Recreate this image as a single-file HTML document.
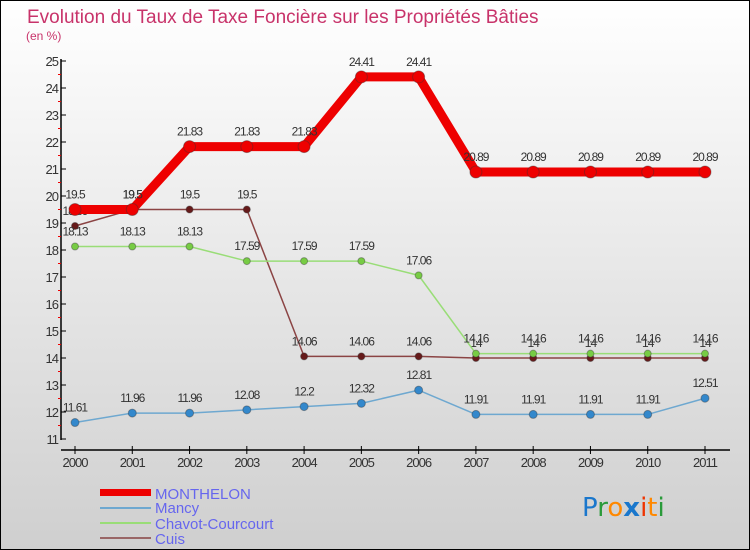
<!DOCTYPE html>
<html><head><meta charset="utf-8"><style>
body{margin:0;}
#c{width:750px;height:550px;position:relative;overflow:hidden;font-family:"Liberation Sans",sans-serif;}
</style></head><body>
<div id="c">
<svg id="s" width="750" height="550" xmlns="http://www.w3.org/2000/svg">
<defs><linearGradient id="bg" x1="0" y1="0" x2="0" y2="1"><stop offset="0" stop-color="#ffffff"/><stop offset="1" stop-color="#cfcfcf"/></linearGradient></defs>
<rect x="0.5" y="0.5" width="749" height="549" fill="url(#bg)" stroke="#000"/>
<text x="27" y="23" font-size="19" fill="#c8336a">Evolution du Taux de Taxe Foncière sur les Propriétés Bâties</text>
<text x="26" y="40" font-size="12" fill="#c8336a">(en %)</text>
<g id="axes"></g><g id="series"></g>
<g>
<rect x="100" y="489" width="51" height="7" fill="#ee0000"/>
<text x="155" y="499" font-size="15" fill="#6666ee">MONTHELON</text>
<rect x="100" y="507" width="51" height="2" fill="#6ea8d0"/>
<text x="155" y="513" font-size="15" fill="#6666ee">Mancy</text>
<rect x="100" y="522" width="51" height="2" fill="#99dd77"/>
<text x="155" y="529" font-size="15" fill="#6666ee">Chavot-Courcourt</text>
<rect x="100" y="537" width="51" height="2" fill="#996666"/>
<text x="155" y="544" font-size="15" fill="#6666ee">Cuis</text>
</g>
<g font-size="26" font-family="DejaVu Sans, sans-serif">
<text x="582" y="516"><tspan fill="#1a77cc">P</tspan><tspan fill="#2a9a3a">r</tspan><tspan fill="#ff8800">o</tspan><tspan fill="#1a77cc" font-weight="bold">x</tspan><tspan fill="#ee3300">i</tspan><tspan fill="#ff8800">t</tspan><tspan fill="#2a9a3a">i</tspan></text>
</g>
</svg></div>
<script>
const years=["2000","2001","2002","2003","2004","2005","2006","2007","2008","2009","2010","2011"];
const monthelon=[19.5,19.5,21.83,21.83,21.83,24.41,24.41,20.89,20.89,20.89,20.89,20.89];
const mancy=[11.61,11.96,11.96,12.08,12.2,12.32,12.81,11.91,11.91,11.91,11.91,12.51];
const chavot=[18.13,18.13,18.13,17.59,17.59,17.59,17.06,14.16,14.16,14.16,14.16,14.16];
const cuis=[18.89,19.5,19.5,19.5,14.06,14.06,14.06,14,14,14,14,14];
const yTicks=[11,12,13,14,15,16,17,18,19,20,21,22,23,24,25];
const NS="http://www.w3.org/2000/svg";
const x=i=>75+i*(630/11);
const y=v=>439-(v-11)*27;
function el(t,a,p){const e=document.createElementNS(NS,t);for(const k in a)e.setAttribute(k,a[k]);p.appendChild(e);return e;}
const ax=document.getElementById('axes'),sr=document.getElementById('series');
const yl=el('line',{x1:61,y1:59,x2:61,y2:440,stroke:'#000','stroke-width':1.5},ax);


const xl=el('line',{x1:61,y1:450,x2:730,y2:450,stroke:'#000','stroke-width':1.5},ax);


yTicks.forEach((v,i)=>{
 el('line',{x1:61,y1:y(v),x2:66,y2:y(v),stroke:'#000'},ax);
 if(i<yTicks.length-1)el('line',{x1:58,y1:y(v+0.5),x2:61,y2:y(v+0.5),stroke:'#e00'},ax);
 const t=el('text',{x:58,y:y(v)+5,'font-size':13,fill:'#333','text-anchor':'end','letter-spacing':'-1'},ax);
 t.textContent=v;
 
 
});
years.forEach((yr,i)=>{
 el('line',{x1:x(i),y1:446,x2:x(i),y2:454,stroke:'#000'},ax);
 const t=el('text',{x:x(i),y:467,'font-size':13,fill:'#333','text-anchor':'middle','letter-spacing':'-1'},ax);
 t.textContent=yr;
 
 
});
function series(d,name,col,w,dot,r){
 const g=el('g',{},sr);
 
 
 el('polyline',{points:d.map((v,i)=>x(i)+','+y(v)).join(' '),fill:'none',stroke:col,'stroke-width':w,'stroke-linejoin':'round'},g);
 d.forEach((v,i)=>{
  const c=el('circle',{cx:x(i),cy:y(v),r:r,fill:dot,stroke:'#333','stroke-opacity':0.4},g);
  
  
  const t=el('text',{x:x(i),y:y(v)-11,'font-size':12,fill:'#333','text-anchor':'middle','letter-spacing':'-1'},g);
  t.textContent=String(v).replace(/^(\d+)\.(\d)$/,'$1.$2');
  
  
 });
}
series(cuis,'cuis','#8b4444',1.5,'#661a1a',3.5);
series(chavot,'chavot-courcourt','#99dd77',1.5,'#77cc44',3.5);
series(mancy,'mancy','#6ea8d0',1.5,'#3388cc',4);
series(monthelon,'monthelon','#ee0000',9,'#ee0000',6);
</script>
</body></html>
